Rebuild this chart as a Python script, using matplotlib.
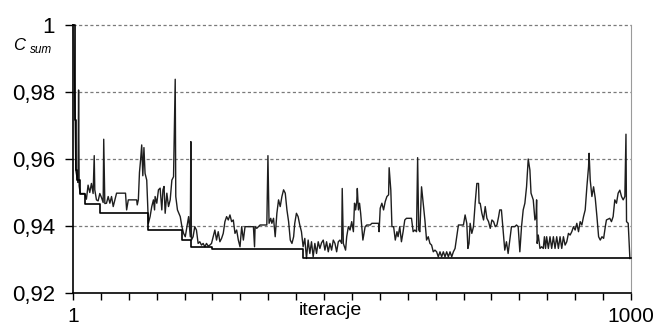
import matplotlib
matplotlib.use("Agg")
import matplotlib.pyplot as plt
import numpy as np

plt.rcParams['font.family'] = ['Liberation Sans', 'DejaVu Sans']

# current solution value per iteration
iter_cur = [1, 2, 3, 5, 6, 9, 10, 11, 12, 14, 18, 22, 25, 28, 31, 34, 37, 39, 40, 43, 46, 49,
            52, 55, 56, 58, 61, 64, 67, 70, 73, 76, 79, 95, 97, 100, 115, 116, 118, 120, 122,
            124, 126, 128, 130, 133, 136, 139, 142, 145, 147, 148, 151, 154, 157, 160, 162,
            164, 166, 169, 172, 175, 178, 181, 184, 185, 188, 193, 196, 199, 202, 205, 208,
            211, 212, 213, 216, 219, 222, 225, 228, 231, 234, 237, 240, 243, 246, 249, 252,
            255, 258, 261, 264, 267, 270, 273, 276, 279, 282, 285, 288, 291, 294, 297, 300,
            303, 306, 309, 324, 326, 327, 330, 336, 348, 350, 352, 355, 357, 360, 363, 366,
            369, 372, 375, 378, 381, 384, 387, 390, 393, 396, 398, 401, 404, 407, 410, 413,
            416, 419, 422, 425, 428, 431, 434, 437, 440, 443, 446, 449, 452, 455, 458, 461,
            464, 467, 470, 473, 476, 479, 482, 483, 485, 489, 491, 494, 497, 500, 503, 505,
            507, 509, 510, 512, 514, 516, 518, 520, 522, 524, 527, 533, 536, 548, 549, 551,
            554, 557, 560, 563, 566, 567, 570, 572, 575, 578, 581, 583, 586, 589, 592, 595,
            598, 607, 610, 613, 616, 618, 620, 622, 625, 628, 631, 634, 637, 640, 643, 646,
            649, 652, 655, 658, 661, 664, 667, 670, 673, 676, 679, 682, 685, 688, 691, 694,
            700, 703, 706, 708, 710, 712, 715, 718, 721, 724, 727, 728, 730, 733, 736, 739,
            742, 745, 748, 751, 754, 757, 760, 763, 765, 768, 770, 771, 774, 777, 780, 783,
            786, 792, 795, 798, 801, 804, 807, 810, 813, 816, 819, 821, 825, 828, 830, 831,
            832, 834, 837, 840, 843, 845, 847, 849, 852, 855, 858, 861, 864, 867, 870, 873,
            876, 879, 882, 885, 888, 891, 894, 897, 900, 903, 906, 909, 912, 915, 918, 921,
            924, 925, 927, 930, 933, 936, 939, 942, 945, 948, 951, 954, 956, 962, 965, 968,
            971, 974, 977, 980, 983, 986, 989, 991, 992, 995, 998, 1000]
val_cur = [1.0, 0.995, 0.988, 0.9716, 0.9567, 0.9537, 0.953, 0.9806, 0.952, 0.9497, 0.9497,
           0.9497, 0.948, 0.9522, 0.950, 0.9527, 0.9497, 0.961, 0.9508, 0.9478, 0.9475, 0.9497,
           0.9485, 0.947, 0.9659, 0.9467, 0.9468, 0.9488, 0.9468, 0.9488, 0.9458, 0.9478,
           0.9498, 0.9498, 0.9448, 0.9478, 0.9478, 0.9463, 0.9478, 0.956, 0.9597, 0.9642,
           0.955, 0.9634, 0.9557, 0.9537, 0.9408, 0.9428, 0.9458, 0.9478, 0.9448, 0.9488,
           0.9468, 0.9508, 0.9513, 0.9448, 0.9508, 0.9518, 0.9438, 0.9498, 0.9458, 0.9478,
           0.9537, 0.9547, 0.9838, 0.9488, 0.9448, 0.9428, 0.9398, 0.9378, 0.9368, 0.9398,
           0.9428, 0.9368, 0.9652, 0.9358, 0.9368, 0.9398, 0.9388, 0.9348, 0.9353, 0.9343,
           0.9348, 0.9338, 0.9348, 0.9340, 0.9343, 0.9348, 0.9368, 0.9388, 0.9358, 0.9383,
           0.9353, 0.9363, 0.9378, 0.9413, 0.9428, 0.9418, 0.9433, 0.9413, 0.9418, 0.9378,
           0.9388, 0.9358, 0.9338, 0.9398, 0.9358, 0.9398, 0.9398, 0.9338, 0.9398, 0.9393,
           0.9403, 0.9403, 0.961, 0.9408, 0.9423, 0.9408, 0.9423, 0.9368, 0.9438, 0.9478,
           0.9458, 0.9488, 0.9508, 0.9498, 0.9448, 0.9413, 0.9358, 0.9348, 0.9368, 0.9408,
           0.9438, 0.9428, 0.9403, 0.9383, 0.9338, 0.9363, 0.9303, 0.9358, 0.9318, 0.9353,
           0.9308, 0.9348, 0.9318, 0.9353, 0.9333, 0.935, 0.9358, 0.9328, 0.9353, 0.9323,
           0.9348, 0.9328, 0.9358, 0.9348, 0.9323, 0.9353, 0.9358, 0.9348, 0.9512, 0.9348,
           0.9328, 0.9368, 0.9398, 0.9388, 0.9413, 0.9383, 0.9468, 0.9448, 0.9473, 0.9512,
           0.9448, 0.9468, 0.9438, 0.9398, 0.9358, 0.9378, 0.9398, 0.9403, 0.9403, 0.9408,
           0.9408, 0.9383, 0.9453, 0.9468, 0.9448, 0.9473, 0.9488, 0.9493, 0.9574, 0.9507,
           0.9398, 0.9398, 0.9358, 0.9383, 0.9368, 0.9398, 0.9353, 0.9383, 0.9418, 0.9423,
           0.9423, 0.9383, 0.9388, 0.9383, 0.9604, 0.9388, 0.9383, 0.9517, 0.9468, 0.9418,
           0.9358, 0.9368, 0.9348, 0.9343, 0.9323, 0.9328, 0.9323, 0.9308, 0.9323, 0.9308,
           0.9323, 0.9308, 0.9323, 0.9308, 0.9323, 0.9308, 0.9323, 0.9333, 0.9368, 0.9403,
           0.9403, 0.9403, 0.9433, 0.9408, 0.9333, 0.9348, 0.9408, 0.9378, 0.9398, 0.9468,
           0.9527, 0.9527, 0.9468, 0.9468, 0.9438, 0.9418, 0.9458, 0.9423, 0.9413, 0.9393,
           0.9418, 0.9413, 0.9398, 0.9403, 0.9428, 0.9448, 0.9448, 0.9408, 0.9388, 0.9328,
           0.9353, 0.9318, 0.9358, 0.9398, 0.9398, 0.9403, 0.9398, 0.9323, 0.9398, 0.9448,
           0.9468, 0.9517, 0.9600, 0.9567, 0.9498, 0.9478, 0.9418, 0.9428, 0.9478, 0.9348,
           0.9373, 0.9333, 0.9338, 0.9333, 0.9368, 0.9333, 0.9368, 0.9333, 0.9368, 0.9333,
           0.9368, 0.9333, 0.9368, 0.9333, 0.9368, 0.9333, 0.9368, 0.9343, 0.9353, 0.9378,
           0.9373, 0.9383, 0.9398, 0.9388, 0.9408, 0.9383, 0.9413, 0.9403, 0.9428, 0.9448,
           0.9517, 0.9577, 0.9617, 0.9537, 0.9488, 0.9517, 0.9483, 0.9428, 0.9368, 0.9358,
           0.9368, 0.9363, 0.9398, 0.9418, 0.9423, 0.9413, 0.9428, 0.9478, 0.9468, 0.9498,
           0.9507, 0.9488, 0.9478, 0.9488, 0.9674, 0.9413, 0.9408, 0.9303]

# best-so-far value
iter_best = [1, 4, 6, 9, 13, 22, 49, 135, 197, 213, 249, 413, 1000]
val_best = [1.0, 0.9716, 0.9567, 0.9537, 0.9495, 0.9465, 0.944, 0.9387, 0.9358, 0.9338,
            0.9332, 0.9303, 0.9303]

y_ticks = [0.92, 0.94, 0.96, 0.98, 1.0]
y_labels = ['0,92', '0,94', '0,96', '0,98', '1']

n = min(len(iter_cur), len(val_cur))
fig = plt.figure(figsize=(6.55, 3.32), dpi=100)
ax = fig.add_axes([73/655, 1-293/332, 558/655, 268/332])

ax.plot(iter_cur[:n], val_cur[:n], color='#1e1e1e', lw=1.0, clip_on=False, zorder=3)
ax.plot(iter_best, val_best, color='black', lw=1.2, drawstyle='steps-post', clip_on=False, zorder=4)

ax.set_xlim(1, 1000)
ax.set_ylim(0.92, 1.0)
ax.set_yticks(y_ticks)
ax.set_yticklabels(y_labels, fontsize=16)
xt = np.linspace(1, 1000, 21)
ax.set_xticks(xt)
ax.set_xticklabels(['1'] + [''] * 19 + ['1000'], fontsize=15)
ax.tick_params(axis='x', direction='out', length=5, width=1, pad=5)
ax.tick_params(axis='y', direction='out', length=5.8, width=1, pad=7)

for v in y_ticks[1:]:
    ax.axhline(v, color='#7a7a7a', lw=0.9, ls=(0, (2.5, 2)), zorder=1, clip_on=False)

ax.spines['top'].set_visible(False)
ax.spines['right'].set_color('#9a9a9a')
ax.spines['left'].set_linewidth(1.2)
ax.spines['bottom'].set_linewidth(1.2)

ax.set_xlabel('iteracje', fontsize=14)
ax.xaxis.set_label_coords(0.462, -0.035)

fig.text(13/655, 1-50/332, 'C', fontsize=12, style='italic', ha='left', va='baseline')
fig.text(30/655, 1-53/332, 'sum', fontsize=8.5, style='italic', ha='left', va='baseline')

fig.savefig('out.png', dpi=100)
